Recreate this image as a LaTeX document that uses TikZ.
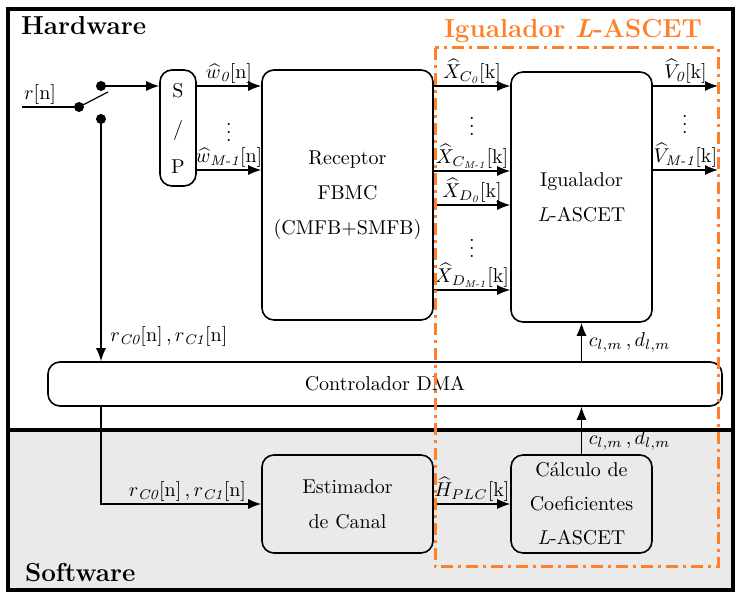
\documentclass[tikz,border=0pt]{standalone}
\usepackage{amssymb}
\usepackage{amsmath}
\usepackage[dvipsnames]{xcolor}
\usetikzlibrary{arrows.meta}
\definecolor{laranja}{RGB}{255,127,42}
\definecolor{cinzasw}{RGB}{234,234,234}
\newcommand{\sbi}[1]{\textit{#1}}

\begin{document}
\begin{tikzpicture}[x=0.5pt,y=-0.5pt,
		bloco/.style={draw, line width=0.8pt, rounded corners=6pt, align=center, inner sep=0pt},
		seta/.style={-{Latex[length=6.5pt,width=5pt]}, line width=0.6pt},
		ponto/.style={circle, fill, inner sep=0pt, minimum size=5pt},
		rot/.style={inner sep=1pt},
		reti/.style={inner sep=0pt},
		titulo/.style={font=\fontsize{13}{15}\selectfont\bfseries}]
	\useasboundingbox (0,0) rectangle (741,597);
	% hardware / software
	\fill[cinzasw] (8,430) rectangle (733,590);
	\draw[line width=1.6pt] (8,9) rectangle (733,590);
	\draw[line width=1.6pt] (8,430) -- (733,430);
	\node[anchor=west, titulo] (hw) at (14,26) {Hardware};
	\node[anchor=west, titulo] (sw) at (18,573) {Software};

	% blocks
	\node[bloco, minimum width=18pt, minimum height=58pt] (sp) at (178,128) {S\\[7pt]/\\[7pt]P};
	\node[bloco, minimum width=85.5pt, minimum height=125pt] (rec) at (347.5,195) {Receptor\\[5.5pt]FBMC\\[5.5pt](CMFB+SMFB)};
	\node[bloco, minimum width=70.5pt, minimum height=125pt] (igu) at (581.5,197) {Igualador\\[5.5pt]\textit{L}-ASCET};
	\node[bloco, minimum width=337pt, minimum height=22pt, fill=white] (dma) at (385,384) {Controlador DMA};
	\node[bloco, minimum width=85.5pt, minimum height=49pt] (est) at (347.5,504) {Estimador\\[5.5pt]de Canal};
	\node[bloco, minimum width=70.5pt, minimum height=49pt] (calc) at (581.5,504) {C\'alculo de\\[5pt]Coeficientes\\[5pt]\textit{L}-ASCET};

	% switch
	\node[ponto] (s0) at (79,107) {};
	\node[ponto] (s1) at (101,86) {};
	\node[ponto] (s2) at (101,119) {};
	\coordinate (rin) at (22,107);
	\draw[line width=0.6pt] (rin) -- (s0) node[pos=0.35, above, rot] {$r$[n]};
	\draw[line width=0.6pt] (s0.center) -- (108,92);
	\draw[seta] (s1.center) -- (sp.west |- s1);

	% S/P outputs
	\draw[seta] (sp.east |- 0,86) -- (rec.west |- 0,86) node[midway, above, rot] {$\widehat{w}_{\sbi{0}}$[n]};
	\draw[seta] (sp.east |- 0,170) -- (rec.west |- 0,170) node[midway, above, rot] {$\widehat{w}_{\sbi{M-1}}$[n]};
	\node[reti] (pw) at (229,126) {$\vdots$};

	% receptor outputs
	\draw[seta] (rec.east |- 0,86) -- (igu.west |- 0,86) node[midway, above, rot] {$\widehat{X}_{C_{\sbi{0}}}$[k]};
	\draw[seta] (rec.east |- 0,171) -- (igu.west |- 0,171) node[midway, above, rot] {$\widehat{X}_{C_{\sbi{M-1}}}$[k]};
	\draw[seta] (rec.east |- 0,205) -- (igu.west |- 0,205) node[midway, above, rot] {$\widehat{X}_{D_{\sbi{0}}}$[k]};
	\draw[seta] (rec.east |- 0,290) -- (igu.west |- 0,290) node[midway, above, rot] {$\widehat{X}_{D_{\sbi{M-1}}}$[k]};
	\node[reti] (pc) at (472,120) {$\vdots$};
	\node[reti] (pd) at (472,242) {$\vdots$};

	% equalizer outputs
	\coordinate (v0) at (718,86);
	\coordinate (v1) at (718,170);
	\draw[seta] (igu.east |- v0) -- (v0) node[midway, above, rot] {$\widehat{V}_{\sbi{0}}$[k]};
	\draw[seta] (igu.east |- v1) -- (v1) node[midway, above, rot] {$\widehat{V}_{\sbi{M-1}}$[k]};
	\node[reti] (pv) at (685,118) {$\vdots$};

	% control paths
	\draw[seta] (s2.center) -- (dma.north -| s2) node[pos=0.9, right, xshift=1pt] {$r_{\sbi{C0}}$[n]\,,\,$r_{\sbi{C1}}$[n]};
	\draw[seta] (dma.south -| s2) |- (est.west) node[pos=0.77, above, rot] {$r_{\sbi{C0}}$[n]\,,\,$r_{\sbi{C1}}$[n]};
	\draw[seta] (est.east) -- (calc.west) node[midway, above, rot] {$\widehat{H}_{PLC}$[k]};
	\draw[seta] (calc.north) -- (dma.south -| calc.north) node[pos=0.3, right] {$c_{l,m}$\,,\,$d_{l,m}$};
	\draw[seta] (dma.north -| igu.south) -- (igu.south) node[pos=0.5, right] {$c_{l,m}$\,,\,$d_{l,m}$};

	% equalizer frame
	\draw[laranja, line width=1.5pt, dash pattern=on 6pt off 2.5pt on 1.5pt off 2.5pt] (435,48) rectangle (718,567);
	\node[laranja, titulo] (tit) at (573,31) {Igualador \textit{L}-ASCET};
\end{tikzpicture}
\end{document}
